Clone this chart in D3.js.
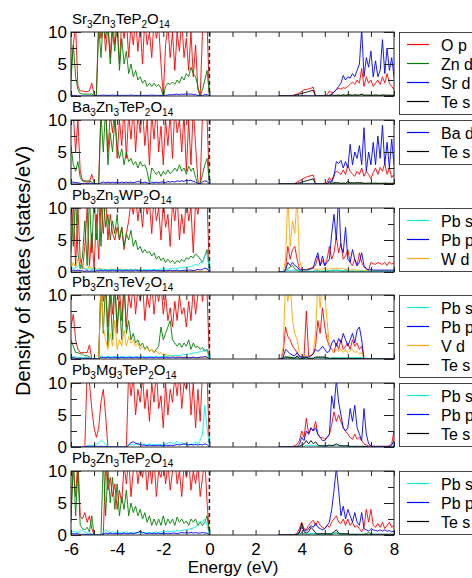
<!DOCTYPE html>
<html>
<head>
<meta charset="utf-8">
<script src="https://cdn.jsdelivr.net/npm/d3@7"></script>
<style>
  body { margin: 0; background: #fff; }
  svg text { font-family: 'Liberation Sans', Arial, Helvetica, sans-serif; fill: #000; }
</style>
</head>
<body>
<div id="dos"></div>
<script>
// energy grids (eV): valence band -6..0 and conduction band 3..8, step 0.1
const energyVB = d3.range(61).map(i => +(-6 + i * 0.1).toFixed(1));
const energyCB = d3.range(51).map(i => +(3 + i * 0.1).toFixed(1));

// --- Sr3Zn3TeP2O14 ---
const srOpVB = [4,8,11,1.5,0.8,0.8,0.7,0.7,0.8,2,0.3,0,
  12,9,12,7,11,6,12,8,11,5,12,9,12,6,11,8,12,7,11,5,12,8,10,6,12,9,11,5,
  0,8,11,6,10,4,10,7,12,6,9,4,10,3,8,1,0,10,12,11,0];
const srZndVB = [2.5,8,3,1,0.4,0.3,0.3,0.3,0.3,0.3,0.1,0,
  11,6,12,9,12,5,10,7,12,4,9,5,7,3.5,5,3,4,2.5,3,2,2.5,1.5,2,1.5,2,1.5,1.8,1.2,
  0,1.5,2,1.8,2.2,1.8,2.5,2,3,2.5,3.5,3,4.5,3.5,3,1.5,0,1,2.5,4,0];
const srSrdVB = [0.1,0.1,0.05,0,0,0,0,0,0,0,0,0,
  0.1,0.1,0.15,0.1,0.1,0.1,0.15,0.1,0.1,0.1,0.1,0.1,0.1,0.1,0.15,0.1,0.1,0.1,0.1,0.1,0.1,0.1,0.1,0.15,0.1,0.1,0.1,0.1,
  0,0.1,0.15,0.2,0.2,0.25,0.3,0.2,0.3,0.25,0.35,0.3,0.3,0.25,0.2,0.1,0,0.1,0.2,0.2,0];
const srOpCB = [0,0,0,0,0,0.05,0.1,0.2,0.3,0.5, 0.7,1,1,1.1,1.2,1.4,0,0,0,0,
  0,0.2,0.8,0.5,0.6,1,1.2,1.1,1.3,1.2, 1.5,1.8,2.2,1.8,2.5,2,4.3,1.5,3,2,
  2.5,1.5,2,2.5,1.8,3,2,3.5,2,1.5, 1];
const srZndCB = [0,0,0,0,0,0,0,0,0,0, 0,0,0,0,0,0,0,0,0,0,
  0,0,0,0.05,0.05,0.1,0.1,0.05,0.1,0.1, 0.1,0.15,0.1,0.1,0.15,0.1,0.2,0.1,0.1,0.15,
  0.1,0.1,0.15,0.1,0.1,0.2,0.1,0.1,0.15,0.1, 0.1];
const srSrdCB = [0,0,0,0,0,0,0,0,0,0, 0,0,0,0,0,0,0,0,0,0,
  0,0,0.1,0.3,0.6,1,1.5,2,3.2,2.5, 3,2.8,3.5,3,4,5,10.5,3,6,4.5,
  7,3,5.5,3,4,8.8,3.5,7.5,4,6, 3];
const srTesCB = [0,0,0,0,0,0,0,0.1,0.2,0.3, 0.4,0.5,0.6,0.7,0.8,0.9,0,0,0,0,
  0,0,0.1,0.2,0.1,0.1,0.15,0.1,0.2,0.1, 0.2,0.15,0.1,0.2,0.1,0.15,0.3,0.1,0.15,0.1,
  0.1,0.1,0.15,0.1,0.1,0.1,0.15,0.1,0.1,0.1, 0.1];

// --- Ba3Zn3TeP2O14 ---
const baOpVB = [10,11,5,10,2,0.5,0.4,0.3,0.3,1.5,0.2,0,
  0,12,10,12,5,11,8,12,4,10,6,12,4,11,7,12,5,11,8,12,6,10,3,11,7,12,5,9,
  3,10,6,11,4,12,8,10,5,11,2,10,3,12,6,0.5,0,11,12,10,0];
const baZndVB = [6,3,2,3.5,1,0.5,0.5,0.5,0.5,0.3,0,0,
  0,11,5,12,3,8,5,10,6,4,5.5,3,5,3.5,4,3,3.5,2.5,3.5,2.8,3,2,0,2.5,2,1.5,2,1.2,
  2,1.5,2.2,1.6,2,2.5,2,3,2,2.5,1.5,2.8,2,2.5,1,0,0,1.5,3,4,0];
const baBadVB = [0.3,0.3,0.2,0.2,0.1,0.1,0.1,0.1,0.1,0.1,0,0,
  0,0.2,0.3,0.2,0.3,0.2,0.3,0.2,0.3,0.2,0.3,0.2,0.3,0.2,0.3,0.2,0.3,0.4,0.3,0.2,0.3,0.2,0,0.3,0.2,0.3,0.2,0.3,
  0.3,0.2,0.4,0.3,0.4,0.3,0.5,0.4,0.5,0.4,0.6,0.5,0.6,0.4,0.3,0.1,0,0.3,0.5,0.4,0];
const baOpCB = [0,0,0,0,0,0,0.05,0.1,0.3,0.5, 0.7,0.9,1.1,1.2,1.3,1.4,0,0,0,0,
  0,0.3,1,0.5,1.5,2,1.8,1.5,2.2,1.5, 3,2,1.5,1.2,2,1.5,2.5,1.2,2,1.5,
  0.8,1.8,2.5,1.5,2.6,2,3.2,1.5,2.5,1, 1.5];
const baZndCB = [0,0,0,0,0,0,0,0,0,0, 0,0,0,0,0,0,0,0,0,0,
  0,0,0.05,0.05,0.1,0.1,0.1,0.05,0.1,0.1, 0.15,0.1,0.1,0.1,0.15,0.1,0.1,0.1,0.1,0.15,
  0.1,0.1,0.15,0.1,0.1,0.1,0.15,0.1,0.1,0.1, 0.1];
const baBadCB = [0,0,0,0,0,0,0,0,0,0, 0,0,0,0,0,0,0,0,0,0,
  0,0,0.5,0.3,1.2,3.5,3.2,3.7,2.5,3.5, 2.5,6.2,3,5,4,6,3,8.8,2,5,
  3,6.5,3,7.5,4,9.2,3,6.5,2.5,7, 3];
const baTesCB = [0,0,0,0,0,0,0,0,0.1,0.2, 0.3,0.4,0.5,0.6,0.7,0.8,0,0,0,0,
  0,0,0.3,0.1,0.2,0.2,0.2,0.1,0.15,0.1, 0.4,0.2,0.2,0.15,0.2,0.2,0.2,0.1,0.1,0.1,
  0.1,0.1,0.1,0.1,0.1,0.1,0.1,0.1,0.1,0.1, 0.1];

// --- Pb3Zn3WP2O14 ---
const pbwOpVB = [3,11,1,10,2,0.5,4,10,1,6,0.5,9,
  2,11,6,12,5,9,6,5,7,5,7,3.5,6,8,11,9,12,8,11,7,12,9,11,6,12,8,10,5,
  11,7,9,4,11,8,12,5,9,6,12,8,10,3,11,9,12,10,12,11,0];
const pbwZndVB = [11,4,12,3,0.5,2.5,8,1,12,3,12,5,
  12,4,12,7,9,5,8,6,9,5,7,4,6,5,6.5,4,5,3.5,4,3,3.5,3,3.2,2.5,3,2,2.5,1.8,
  2.2,1.5,2,1.5,1.8,1.3,1.8,1.5,2,1.6,2.2,2,2.5,2.2,2.8,2.5,2,1.5,2.5,3.5,0];
const pbwPbsVB = [0.8,0.5,0.6,1,0.8,0.6,0.5,0.4,0.5,0.4,0.5,0.4,
  0.4,0.5,0.3,0.4,0.3,0.4,0.3,0.4,0.3,0.4,0.3,0.4,0.3,0.4,0.5,0.3,0.4,0.3,0.4,0.3,0.4,0.3,0.4,0.3,0.4,0.3,0.4,0.5,
  0.4,0.5,0.4,0.6,0.5,0.6,0.5,0.7,0.6,0.8,0.7,0.9,0.8,1,1.2,1,1.5,1.5,2.5,3,0];
const pbwPbpVB = [0.2,0.3,0.2,0.3,0.2,0.2,0.1,0.2,0.1,0.2,0.1,0.2,
  0.2,0.3,0.2,0.3,0.2,0.2,0.3,0.2,0.2,0.3,0.2,0.2,0.3,0.2,0.2,0.2,0.3,0.2,0.2,0.2,0.2,0.2,0.2,0.2,0.3,0.2,0.2,0.2,
  0.2,0.2,0.2,0.3,0.2,0.2,0.3,0.2,0.2,0.3,0.2,0.3,0.3,0.2,0.3,0.4,0.3,0.4,0.6,0.5,0];
const pbwWdVB = [0.5,1.5,0.8,2,1.5,1,0.5,0.3,1,0.5,0.8,0.4,
  0.6,0.3,0.5,0.4,0.3,0.5,0.4,0.5,0.3,0.4,0.5,0.3,0.4,0.3,0.4,0.3,0.4,0.3,0.4,0.3,0.3,0.2,0.3,0.2,0.3,0.2,0.2,0.2,
  0.2,0.2,0.15,0.2,0.15,0.2,0.15,0.1,0.15,0.1,0.1,0.1,0.1,0.1,0.1,0.1,0.1,0.1,0.1,0.1,0];
const pbwOpCB = [0,0,0,0.5,4,2,3.5,4,2,0.5, 0.4,0.3,0.4,0.5,0.6,0.8,1,2.5,1,1.8,
  1,2,4,2,3,5.5,3,4.5,2,2.5, 3.5,1.5,1,2,1,3,1.5,0.8,0.5,0.3,
  1.5,1.3,1.2,1.5,1.3,1.2,1.5,1,1.6,1.2, 1.5];
const pbwZndCB = [0,0,0,0.2,0.5,0.8,1,0.5,0.3,0.1, 0.1,0.1,0.1,0.1,0.1,0.1,0.2,0.2,0.1,0.1,
  0.1,0.1,0.2,0.2,0.2,0.3,0.2,0.2,0.1,0.2, 0.1,0.1,0.1,0.1,0.1,0.1,0.1,0.1,0.1,0.1,
  0.1,0.1,0.1,0.1,0.1,0.1,0.1,0.1,0.1,0.1, 0.1];
const pbwPbsCB = [0,0,0,0.1,0.3,0.2,0.3,0.2,0.2,0.1, 0.1,0.1,0.1,0.1,0.1,0.1,0.2,0.2,0.1,0.2,
  0.1,0.2,0.2,0.3,0.3,0.2,0.3,0.2,0.2,0.3, 0.1,0.1,0.2,0.1,0.1,0.1,0.2,0.1,0.1,0.1,
  0.1,0.1,0.1,0.1,0.1,0.1,0.1,0.1,0.1,0.1, 0.1];
const pbwPbpCB = [0,0,0,0.3,1.5,1,1.5,1,0.8,0.3, 0.3,0.4,0.3,0.4,0.5,0.6,2,3,1,2.5,
  1,1.5,2,6,9,5,12,4,3,7, 2,1.5,3.5,2,1,1.5,3,1,0.5,0.3,
  0.4,0.3,0.3,0.3,0.3,0.3,0.3,0.3,0.3,0.3, 0.3];
const pbwWdCB = [0,0,0,2,12,4,8,6,12,2, 0.5,0.3,0.4,0.3,0.5,0.6,0.4,0.5,0.4,0.5,
  0.5,0.4,0.5,0.6,0.5,0.6,0.5,0.6,0.5,0.4, 0.4,0.3,0.4,0.3,0.3,0.3,0.2,0.2,0.2,0.2,
  0.2,0.2,0.2,0.2,0.2,0.2,0.2,0.2,0.2,0.2, 0.2];

// --- Pb3Zn3TeV2O14 ---
const pbvOpVB = [5,7,3,1.5,1,1,1,1,2.2,0,0,0,
  0,12,9,12,5,12,7,12,4,11,6,12,5,10,8,12,7,11,9,12,6,10,8,12,7,11,9,12,
  7,10,6,8,5,9,6,10,7,8,5,9,6,11,7,10,12,9,12,10,0];
const pbvZndVB = [3,2,1,1,0.8,0.8,0.5,0.5,0.3,0,0,0,
  0,12,4,12,2,10,3,12,5,9,3,12,4,6,3,4,2.5,3,2,2.5,1.5,2,1.2,1.5,1,1.5,2,5,
  3,4,5,6,3,2.5,2,2.5,1.8,2.5,2,3,1.5,2.5,1.8,2,1.5,1.8,1.2,1.5,0];
const pbvPbsVB = [0.5,0.4,0.3,0.3,0.2,0.2,0.2,0.2,0.2,0,0,0,
  0,0.5,0.4,0.3,0.4,0.3,0.4,0.3,0.4,0.3,0.3,0.4,0.3,0.3,0.4,0.3,0.3,0.4,0.3,0.3,0.4,0.3,0.3,0.4,0.3,0.4,0.3,0.4,
  0.4,0.5,0.4,0.5,0.5,0.6,0.5,0.6,0.6,0.7,0.7,0.8,0.8,0.9,1,1,1.2,1.2,1.5,1.2,0];
const pbvPbpVB = [0.2,0.2,0.1,0.1,0.1,0.1,0.1,0.1,0.1,0,0,0,
  0,0.3,0.2,0.2,0.3,0.2,0.2,0.3,0.2,0.2,0.3,0.2,0.2,0.3,0.2,0.2,0.3,0.2,0.2,0.3,0.2,0.2,0.3,0.2,0.2,0.3,0.2,0.2,
  0.2,0.3,0.2,0.2,0.3,0.2,0.2,0.3,0.2,0.2,0.3,0.2,0.2,0.3,0.2,0.2,0.3,0.3,0.4,0.3,0];
const pbvVdVB = [0.3,0.2,0.2,0.1,0.1,0.1,0.1,0.1,0.1,0,0,0,
  0,12,5,3,1.5,4,2,6,1.5,3,2,4.5,2,3.5,2.5,3,2,2.5,1.5,2,1.5,1.8,1.2,1.5,1,1.3,0.8,1,
  0.6,0.8,0.5,0.6,0.4,0.5,0.3,0.3,0.3,0.3,0.2,0.3,0.2,0.3,0.2,0.2,0.2,0.2,0.2,0.2,0];
const pbvOpCB = [0,0,1,5,3.5,3,2,1.5,1,0.5, 0.3,0.3,7.5,0.5,0.5,0.8,2,6,4,8,
  5,3,2,1.5,1,2.5,1.5,3,1.5,2, 2.5,1.5,3,2,2.5,1.5,2,0,0,0,
  0,0,0,0,0,0,0,0,0,0, 0];
const pbvZndCB = [0,0,0.2,0.4,0.3,0.3,0.2,0.2,0.3,0.1, 0.1,0.1,0.2,0.1,0.1,0.1,0.2,0.3,0.2,0.3,
  0.2,0.1,0.1,0.1,0.1,0.1,0.1,0.1,0.1,0.1, 0.1,0.1,0.1,0.1,0.1,0.1,0.1,0,0,0,
  0,0,0,0,0,0,0,0,0,0, 0];
const pbvPbsCB = [0,0,0.1,0.2,0.2,0.1,0.1,0.1,0.1,0.1, 0.1,0.1,0.1,0.1,0.1,0.1,0.2,0.2,0.2,0.2,
  0.2,0.1,0.1,0.2,0.2,0.2,0.2,0.2,0.2,0.2, 0.2,0.2,0.2,0.2,0.2,0.2,0.2,0,0,0,
  0,0,0,0,0,0,0,0,0,0, 0];
const pbvPbpCB = [0,0,0.3,1.5,1.2,0.8,0.6,0.5,1,0.4, 0.3,0.3,0.3,0.3,0.5,0.8,1.5,1.2,1.5,2,
  1.5,1,1.2,2.5,3,2,3.2,2.5,4,3, 2,3,4,2.5,4.5,5,3,0,0,0,
  0,0,0,0,0,0,0,0,0,0, 0];
const pbvVdCB = [0,0,2,12,9,12,6,4,3,1, 0.6,0.5,0.5,0.4,0.6,1,4,12,8,12,
  10,6,2,1.5,1,1.5,1.2,1.5,1,1.5, 1,1.3,1.5,1,1.2,0.8,1,0,0,0,
  0,0,0,0,0,0,0,0,0,0, 0];
const pbvTesCB = [0,0,0.1,0.2,0.2,0.2,0.2,0.1,0.5,0.1, 0.1,0.1,0.3,0.1,0.1,0.1,0.3,0.3,0.3,0.3,
  0.3,0.2,0.1,0.1,0.1,0.1,0.1,0.1,0.1,0.1, 0.1,0.1,0.1,0.1,0.1,0.1,0.1,0,0,0,
  0,0,0,0,0,0,0,0,0,0, 0];

// --- Pb3Mg3TeP2O14 ---
const pbmOpVB = [0,0,0,0,0,0,0,12,10,6,3,1.5,
  3,7,9,5,0,0,0,0,0,0,0,0,0,12,8,11,5,9,7,11,6,9,4,10,7,12,6,8,
  3,10,5,9,7,11,8,12,6,10,9,12,5,10,3,9,4,12,10,11,0];
const pbmPbsVB = [0,0,0,0,0,0,0,0.2,0.3,0.2,0.3,0.4,
  0.6,1,0.8,0.4,0,0,0,0,0,0,0,0,0,0.3,0.4,0.3,0.5,0.4,0.3,0.5,0.4,0.3,0.5,0.4,0.3,0.4,0.3,0.4,
  0.3,0.5,0.6,0.8,0.5,0.6,0.9,0.5,0.7,0.4,0.6,0.3,0.5,0.4,0.8,0.5,1,2,6.5,3,0];
const pbmPbpVB = [0,0,0,0,0,0,0,0.1,0.1,0.1,0.1,0.1,
  0.1,0.1,0.1,0.1,0,0,0,0,0,0,0,0,0,0.3,0.7,0.8,0.6,0.5,0.4,0.3,0.3,0.2,0.3,0.2,0.3,0.2,0.3,0.2,
  0.2,0.3,0.2,0.3,0.2,0.3,0.4,0.3,0.4,0.5,0.4,0.3,0.4,0.3,0.4,0.3,0.4,0.3,0.5,0.4,0];
const pbmOpCB = [0,0,0,0,0,0.05,0.1,0.2,0.4,1, 2.5,1.5,4.5,2,3,2.5,4,2,1.5,1.5,
  1.2,1.5,2,3.5,5.5,4,5,4,3,2.5, 2,1.5,1.2,2,1.2,1.5,1,0.5,0.3,0.2,
  0.1,0.1,0.1,0.1,0.1,0.1,0.1,0.1,0.2,0.5, 2.5];
const pbmPbsCB = [0,0,0,0,0,0,0,0,0,0.05, 0.2,0.1,0.3,0.2,0.3,0.2,0.3,0.1,0.1,0.1,
  0.1,0.1,0.2,0.3,0.2,0.3,0.2,0.2,0.1,0.1, 0.1,0.1,0.1,0.1,0.1,0.1,0.1,0.1,0.1,0,
  0,0,0,0,0,0,0,0,0,0.1, 0.2];
const pbmPbpCB = [0,0,0,0,0,0,0,0,0.1,0.4, 1.5,1,2.5,2,3,2.5,3,2,1.5,1,
  1,1.5,2,8,6,10.5,7,5,3,2.5, 3,6,4,6.5,3,2,1,6,2,0.5,
  0.2,0.1,0.1,0.1,0.1,0.1,0.1,0.1,0.1,0.3, 1];
const pbmTesCB = [0,0,0,0,0,0,0,0,0,0.1, 0.3,0.5,1,0.5,1,0.5,0.8,0.3,0.2,0.2,
  0.2,0.2,0.3,0.2,0.3,0.5,0.3,0.2,0.2,0.2, 0.2,0.1,0.1,0.1,0.1,0.1,0.1,0.1,0.1,0,
  0,0,0,0,0,0,0,0,0,0, 0];

// --- Pb3Zn3TeP2O14 ---
const pbzOpVB = [3,11,6,12,3,2.5,3.5,2,3,1,0,0,
  0,0,0,11,7,9,6,8,4,7,5,11,8,12,6,10,12,8,11,9,12,7,11,8,12,6,10,9,
  12,8,11,7,10,12,8,10,6,11,9,12,7,10,8,11,6,9,12,5,0];
const pbzZndVB = [2,12,3,10,1.5,1,0.8,1.2,0.5,3,0,0,
  0,0,12,3,10,5,9,4,8,3,6,4,7,3,5,3.5,4.5,3,4,2.5,3.5,2,3,1.5,2.5,1.5,2.5,1.5,
  3,1.5,2.5,1.8,2.5,1.5,2.8,2,2.5,1.8,2.2,1.5,2.5,2,2.5,1.5,2,1.5,2,3,0];
const pbzPbsVB = [0.5,0.6,0.5,0.4,0.6,0.8,0.5,0.3,0.3,0.2,0,0,
  0,0,0.5,0.8,0.5,0.4,0.5,0.4,0.3,0.4,0.3,0.4,0.5,0.3,0.4,0.3,0.4,0.3,0.4,0.3,0.4,0.3,0.4,0.3,0.4,0.5,0.4,0.5,
  0.4,0.5,0.6,0.5,0.6,0.6,0.7,0.6,0.7,0.8,0.8,0.9,1,1.1,1.2,1.8,2.2,2,2.5,1.5,0];
const pbzPbpVB = [0.2,0.2,0.2,0.2,0.1,0.1,0.1,0.1,0.1,0.1,0,0,
  0,0,0.2,0.3,0.2,0.3,0.2,0.2,0.3,0.2,0.2,0.3,0.2,0.2,0.3,0.2,0.3,0.4,0.6,0.4,0.3,0.2,0.3,0.2,0.3,0.2,0.3,0.2,
  0.3,0.2,0.3,0.2,0.3,0.3,0.2,0.3,0.4,0.3,0.4,0.3,0.4,0.3,0.4,0.3,0.3,0.4,0.3,0.3,0];
const pbzOpCB = [0,0,0,0,0,0,0.05,0.1,0.3,1, 2,1,0.8,1.5,2,2.3,1.5,2.2,1.5,1.2,
  1,1.5,1.2,2,2.5,3,2,1.8,2.5,1.5, 2.5,1.5,2,1.2,1.5,1,0.5,1.2,4,2,
  4,1.5,1.2,1.8,1.2,2,1,1.5,2,1.2, 1.5];
const pbzZndCB = [0,0,0,0,0,0,0,0,0,0.1, 0.3,0.2,0.1,0.1,0.2,0.2,0.1,0.1,0.1,0.1,
  0.1,0.1,0.1,0.1,0.3,0.3,0.2,0.1,0.1,0.1, 0.1,0.1,0.1,0.1,0.1,0.1,0.1,0.1,0.2,0.4,
  0.2,0.1,0.1,0.1,0.1,0.1,0.1,0.1,0.1,0.1, 0.1];
const pbzPbsCB = [0,0,0,0,0,0,0,0,0,0.1, 0.3,0.2,0.1,0.2,0.3,0.2,0.2,0.2,0.1,0.1,
  0.1,0.1,0.2,0.2,0.3,0.4,0.2,0.1,0.2,0.1, 0.1,0.1,0.1,0.1,0.1,0.1,0.1,0.1,0.1,0.1,
  0.1,0.1,0.1,0.1,0.1,0.1,0.1,0.1,0.1,0.1, 0.1];
const pbzPbpCB = [0,0,0,0,0,0,0,0,0.1,0.5, 1.2,0.8,0.6,1,1.5,1.2,1.8,1.2,1,0.8,
  1,1.5,2,4,7,10.5,7,3,4.5,2.5, 4,3,2,3.5,2,1.5,3.5,1,0.8,0.6,
  1,0.8,0.7,0.6,0.8,0.6,0.8,0.6,0.7,0.5, 0.6];
const pbzTesCB = [0,0,0,0,0,0,0,0,0,0.3, 1.8,0.5,0.3,0.5,1.2,0.8,0.3,0.2,0.2,0.2,
  0.2,0.2,0.2,0.2,0.5,0.8,0.3,0.2,0.2,0.2, 0.2,0.1,0.1,0.1,0.1,0.1,0.1,0.1,0.1,0.1,
  0.1,0.1,0.1,0.1,0.1,0.1,0.1,0.1,0.1,0.1, 0.1];

const xTicks = d3.range(-6, 9, 1);
const yMajorTicks = [0, 5, 10];
const yMinorTicks = [2.5, 7.5];

const colors = {
    'O p': '#ff0000', 'Zn d': '#008000', 'Sr d': '#0000ff', 'Ba d': '#0000ff',
    'Pb s': '#00f0f0', 'Pb p': '#0000ff', 'W d': '#ffa500', 'V d': '#ffa500', 'Te s': '#000000'
};

const panels = [
    { title: 'Sr_3Zn_3TeP_2O_14', legend: ['O p', 'Zn d', 'Sr d', 'Te s'],
      series: [['O p', srOpVB, srOpCB], ['Zn d', srZndVB, srZndCB], ['Sr d', srSrdVB, srSrdCB], ['Te s', null, srTesCB]] },
    { title: 'Ba_3Zn_3TeP_2O_14', legend: ['Ba d', 'Te s'],
      series: [['O p', baOpVB, baOpCB], ['Zn d', baZndVB, baZndCB], ['Ba d', baBadVB, baBadCB], ['Te s', null, baTesCB]] },
    { title: 'Pb_3Zn_3WP_2O_14', legend: ['Pb s', 'Pb p', 'W d'],
      series: [['O p', pbwOpVB, pbwOpCB], ['Zn d', pbwZndVB, pbwZndCB], ['W d', pbwWdVB, pbwWdCB], ['Pb s', pbwPbsVB, pbwPbsCB], ['Pb p', pbwPbpVB, pbwPbpCB]] },
    { title: 'Pb_3Zn_3TeV_2O_14', legend: ['Pb s', 'Pb p', 'V d', 'Te s'],
      series: [['O p', pbvOpVB, pbvOpCB], ['Zn d', pbvZndVB, pbvZndCB], ['V d', pbvVdVB, pbvVdCB], ['Pb s', pbvPbsVB, pbvPbsCB], ['Pb p', pbvPbpVB, pbvPbpCB], ['Te s', null, pbvTesCB]] },
    { title: 'Pb_3Mg_3TeP_2O_14', legend: ['Pb s', 'Pb p', 'Te s'],
      series: [['O p', pbmOpVB, pbmOpCB], ['Pb s', pbmPbsVB, pbmPbsCB], ['Pb p', pbmPbpVB, pbmPbpCB], ['Te s', null, pbmTesCB]] },
    { title: 'Pb_3Zn_3TeP_2O_14', legend: ['Pb s', 'Pb p', 'Te s'],
      series: [['O p', pbzOpVB, pbzOpCB], ['Zn d', pbzZndVB, pbzZndCB], ['Pb s', pbzPbsVB, pbzPbsCB], ['Pb p', pbzPbpVB, pbzPbpCB], ['Te s', null, pbzTesCB]] }
];

// Layout
const W = 472, H = 578;
const plotLeft = 71, plotRight = 394;
const panelH = 64, panelTop0 = 32, panelStep = 87.8;

const svg = d3.select('#dos').append('svg')
    .attr('width', W)
    .attr('height', H)
    .style('display', 'block');

svg.append('rect').attr('width', W).attr('height', H).attr('fill', '#fff');

const x = d3.scaleLinear().domain([-6, 8]).range([plotLeft, plotRight]);

function addTitle(sel, str) {
    // "_NN" marks a subscript; shift back up on the following normal run
    const parts = str.split(/(_\d+)/).filter(s => s.length);
    let lowered = false;
    parts.forEach(p => {
        if (p[0] === '_') {
            sel.append('tspan').attr('font-size', 10).attr('dy', 4).text(p.slice(1));
            lowered = true;
        } else {
            sel.append('tspan').attr('dy', lowered ? -4 : 0).text(p);
            lowered = false;
        }
    });
}

panels.forEach((p, i) => {
    const top = Math.round(panelTop0 + i * panelStep);
    const bottom = top + panelH;
    const y = d3.scaleLinear().domain([0, 10]).range([bottom, top]);
    const g = svg.append('g');

    const clipId = 'clip' + i;
    svg.append('clipPath').attr('id', clipId)
        .append('rect')
        .attr('x', plotLeft).attr('y', top)
        .attr('width', plotRight - plotLeft).attr('height', panelH);

    const line = d3.line().x(d => x(d[0])).y(d => y(d[1]));
    const curves = g.append('g').attr('clip-path', `url(#${clipId})`);

    p.series.forEach(([name, vb, cb]) => {
        [[energyVB, vb], [energyCB, cb]].forEach(([en, vals]) => {
            if (!vals) return;
            curves.append('path')
                .datum(d3.zip(en, vals))
                .attr('d', line)
                .attr('fill', 'none')
                .attr('stroke', colors[name])
                .attr('stroke-width', 1)
                .attr('stroke-linejoin', 'round')
                .attr('stroke-opacity', 0.9);
        });
    });

    // Fermi level
    g.append('line')
        .attr('x1', x(0)).attr('x2', x(0))
        .attr('y1', top).attr('y2', bottom)
        .attr('stroke', '#222')
        .attr('stroke-width', 1.5)
        .attr('stroke-dasharray', '4,3');

    // x ticks (inward) on bottom and top
    const isLast = i === panels.length - 1;
    const xb = g.append('g')
        .attr('transform', `translate(0,${bottom})`)
        .call(d3.axisBottom(x).tickValues(xTicks).tickSize(-5).tickPadding(8)
            .tickFormat(d => (isLast && d % 2 === 0) ? d : ''));
    g.append('g')
        .attr('transform', `translate(0,${top})`)
        .call(d3.axisTop(x).tickValues(xTicks).tickSize(-5).tickFormat(''));

    // y ticks (inward) on left and right
    g.append('g')
        .attr('transform', `translate(${plotLeft},0)`)
        .call(d3.axisLeft(y).tickValues(yMajorTicks).tickSize(-10).tickPadding(4).tickFormat(d3.format('d')));
    g.append('g')
        .attr('transform', `translate(${plotLeft},0)`)
        .call(d3.axisLeft(y).tickValues(yMinorTicks).tickSize(-6).tickFormat(''));
    g.append('g')
        .attr('transform', `translate(${plotRight},0)`)
        .call(d3.axisRight(y).tickValues(yMajorTicks).tickSize(-10).tickFormat(''));
    g.append('g')
        .attr('transform', `translate(${plotRight},0)`)
        .call(d3.axisRight(y).tickValues(yMinorTicks).tickSize(-6).tickFormat(''));

    g.selectAll('.domain').remove();
    g.selectAll('.tick line').attr('stroke', '#222');
    g.selectAll('.tick text')
        .attr('font-size', 17)
        .attr('fill', '#000')
        .style('font-family', "'Liberation Sans', Arial, sans-serif");
    xb.selectAll('.tick text').attr('dy', '0.71em');

    // frame
    g.append('rect')
        .attr('x', plotLeft).attr('y', top)
        .attr('width', plotRight - plotLeft).attr('height', panelH)
        .attr('fill', 'none')
        .attr('stroke', '#222')
        .attr('stroke-width', 1);

    // title
    const t = svg.append('text')
        .attr('x', plotLeft + 1)
        .attr('y', top - 8)
        .attr('font-size', 15);
    addTitle(t, p.title);

    // legend
    const lg = svg.append('g').attr('transform', `translate(399,${top})`);
    const n = p.legend.length;
    lg.append('rect')
        .attr('x', 0.5).attr('y', 0.5)
        .attr('width', 120)
        .attr('height', 25 + 19 * (n - 1))
        .attr('fill', '#fff')
        .attr('stroke', '#444')
        .attr('stroke-width', 1);
    p.legend.forEach((name, k) => {
        const cy = 12.5 + 19 * k;
        lg.append('line')
            .attr('x1', 8).attr('x2', 30)
            .attr('y1', cy).attr('y2', cy)
            .attr('stroke', colors[name])
            .attr('stroke-width', 1.2);
        lg.append('text')
            .attr('x', 42)
            .attr('y', cy + 6)
            .attr('font-size', 16)
            .text(name);
    });
});

// axis titles
svg.append('text')
    .attr('x', 233)
    .attr('y', 573)
    .attr('text-anchor', 'middle')
    .attr('font-size', 17)
    .text('Energy (eV)');

svg.append('text')
    .attr('transform', 'translate(30,271) rotate(-90)')
    .attr('text-anchor', 'middle')
    .attr('font-size', 20)
    .text('Density of states (states/eV)');
</script>
</body>
</html>
